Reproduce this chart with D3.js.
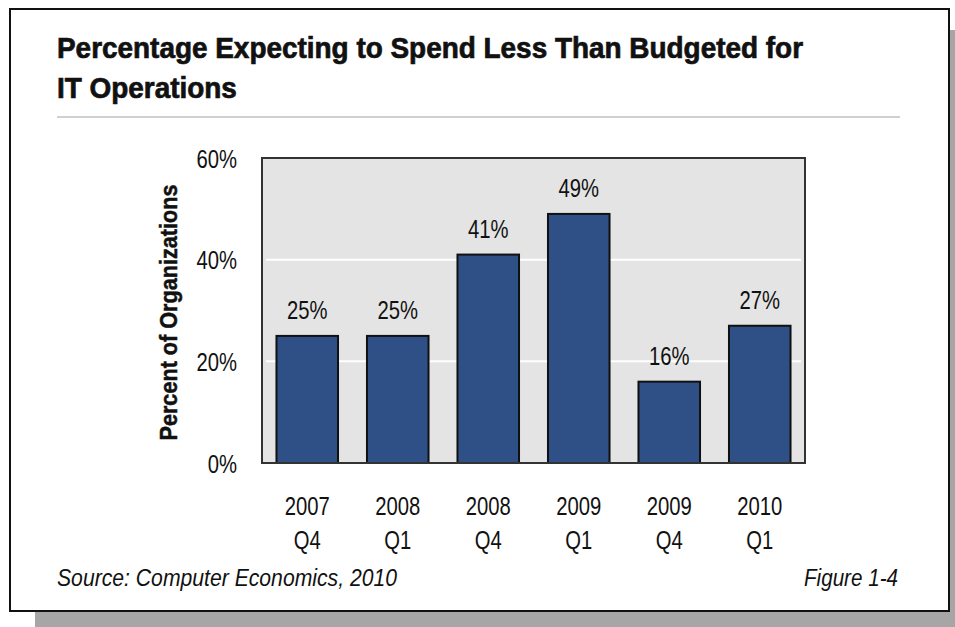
<!DOCTYPE html>
<html>
<head>
<meta charset="utf-8">
<script src="https://cdn.jsdelivr.net/npm/d3@7"></script>
<style>
  html, body { margin: 0; padding: 0; background: #fff; }
  svg { display: block; }
</style>
</head>
<body>
<svg id="chart" width="955" height="627"></svg>
<script>
// Survey results: share of organizations expecting to spend less than budgeted
const years = ["2007", "2008", "2008", "2009", "2009", "2010"];
const quarters = ["Q4", "Q1", "Q4", "Q1", "Q4", "Q1"];
const values = [25, 25, 41, 49, 16, 27];
const yTicks = [0, 20, 40, 60];

const titleLines = ["Percentage Expecting to Spend Less Than Budgeted for", "IT Operations"];
const yLabel = "Percent of Organizations";
const sourceText = "Source: Computer Economics, 2010";
const figureText = "Figure 1-4";

const svg = d3.select("#chart");
const font = '"Liberation Sans", Arial, Helvetica, sans-serif';

// Squeeze a text element horizontally to mimic a condensed typeface
function condense(node, k) {
  const len = node.getComputedTextLength();
  node.setAttribute("textLength", (len * k).toFixed(1));
  node.setAttribute("lengthAdjust", "spacingAndGlyphs");
}
function fitTo(node, width) {
  node.setAttribute("textLength", width);
  node.setAttribute("lengthAdjust", "spacingAndGlyphs");
}

// Drop shadow and framed card
svg.append("rect").attr("x", 35).attr("y", 30).attr("width", 920).attr("height", 597).attr("fill", "#a6a6a6");
svg.append("rect").attr("x", 10).attr("y", 9).attr("width", 939).attr("height", 602)
  .attr("fill", "#fff").attr("stroke", "#111").attr("stroke-width", 2);

// Title (heavy condensed look: bold face plus a thin outline)
const title = svg.append("text").attr("font-family", font).attr("font-weight", "bold")
  .attr("font-size", 29).attr("fill", "#111")
  .attr("stroke", "#111").attr("stroke-width", 0.7);
const titleSpans = titleLines.map((t, i) =>
  title.append("tspan").attr("x", 57).attr("y", 58 + i * 40).text(t).node());
const titleK = 746 / titleSpans[0].getComputedTextLength();
titleSpans.forEach(n => condense(n, titleK));

// Separator rule under the title
svg.append("line").attr("x1", 57).attr("x2", 900).attr("y1", 117).attr("y2", 117)
  .attr("stroke", "#d0d0d0").attr("stroke-width", 2);

// Plot area
const plot = { left: 262, right: 805, top: 158, bottom: 463 };

const x = d3.scaleBand()
  .domain(d3.range(values.length))
  .range([plot.left, plot.right])
  .paddingInner(0.32)
  .paddingOuter(0.16);

const y = d3.scaleLinear().domain([0, 60]).range([plot.bottom, plot.top]);

svg.append("rect")
  .attr("x", plot.left).attr("y", plot.top)
  .attr("width", plot.right - plot.left).attr("height", plot.bottom - plot.top)
  .attr("fill", "#e4e4e4");

// White gridlines
svg.append("g").selectAll("line")
  .data(yTicks.filter(d => d > 0 && d < 60))
  .join("line")
  .attr("x1", plot.left + 4).attr("x2", plot.right - 4)
  .attr("y1", d => y(d)).attr("y2", d => y(d))
  .attr("stroke", "#fff").attr("stroke-width", 2);

// Bars
svg.append("g").selectAll("rect")
  .data(values)
  .join("rect")
  .attr("x", (d, i) => x(i))
  .attr("y", d => y(d))
  .attr("width", x.bandwidth())
  .attr("height", d => y(0) - y(d))
  .attr("fill", "#2e5086")
  .attr("stroke", "#111")
  .attr("stroke-width", 2);

// Plot frame drawn on top of the bars
svg.append("rect")
  .attr("x", plot.left).attr("y", plot.top)
  .attr("width", plot.right - plot.left).attr("height", plot.bottom - plot.top)
  .attr("fill", "none").attr("stroke", "#333").attr("stroke-width", 2);

const numK = 0.81;

// Value labels
svg.append("g").selectAll("text")
  .data(values)
  .join("text")
  .attr("x", (d, i) => x(i) + x.bandwidth() / 2)
  .attr("y", d => y(d) - 17)
  .attr("text-anchor", "middle")
  .attr("font-family", font)
  .attr("font-size", 25)
  .attr("fill", "#111")
  .text(d => d + "%")
  .each(function() { condense(this, numK); });

// Y axis tick labels
const yAxis = d3.axisLeft(y).tickValues(yTicks).tickFormat(d => d + "%").tickSize(0).tickPadding(25);
const yg = svg.append("g").attr("transform", `translate(${plot.left},0)`).call(yAxis);
yg.select(".domain").remove();
yg.selectAll("text").attr("font-family", font).attr("font-size", 25).attr("fill", "#111")
  .attr("dy", "0.36em")
  .each(function() { condense(this, numK); });

// X axis labels (year over quarter)
const xAxis = d3.axisBottom(x).tickSize(0).tickFormat(() => "");
const xg = svg.append("g").attr("transform", `translate(0,${plot.bottom})`).call(xAxis);
xg.select(".domain").remove();
xg.selectAll(".tick text").each(function(d) {
  const t = d3.select(this).attr("y", 0).attr("dy", null)
    .attr("font-family", font).attr("font-size", 25).attr("fill", "#111");
  const a = t.append("tspan").attr("x", 0).attr("y", 52).text(years[d]).node();
  const b = t.append("tspan").attr("x", 0).attr("y", 86).text(quarters[d]).node();
  condense(a, numK);
  condense(b, numK);
});

// Y axis title
svg.append("text")
  .attr("transform", `translate(177,${(plot.top + plot.bottom) / 2 + 2}) rotate(-90)`)
  .attr("text-anchor", "middle")
  .attr("font-family", font).attr("font-weight", "bold").attr("font-size", 24)
  .attr("fill", "#111").attr("stroke", "#111").attr("stroke-width", 0.5)
  .text(yLabel)
  .each(function() { fitTo(this, 256); });

// Footer
svg.append("text").attr("x", 57).attr("y", 586)
  .attr("font-family", font).attr("font-style", "italic").attr("font-size", 23).attr("fill", "#111")
  .text(sourceText)
  .each(function() { fitTo(this, 340); });
svg.append("text").attr("x", 898).attr("y", 586).attr("text-anchor", "end")
  .attr("font-family", font).attr("font-style", "italic").attr("font-size", 23).attr("fill", "#111")
  .text(figureText)
  .each(function() { fitTo(this, 94); });
</script>
</body>
</html>
